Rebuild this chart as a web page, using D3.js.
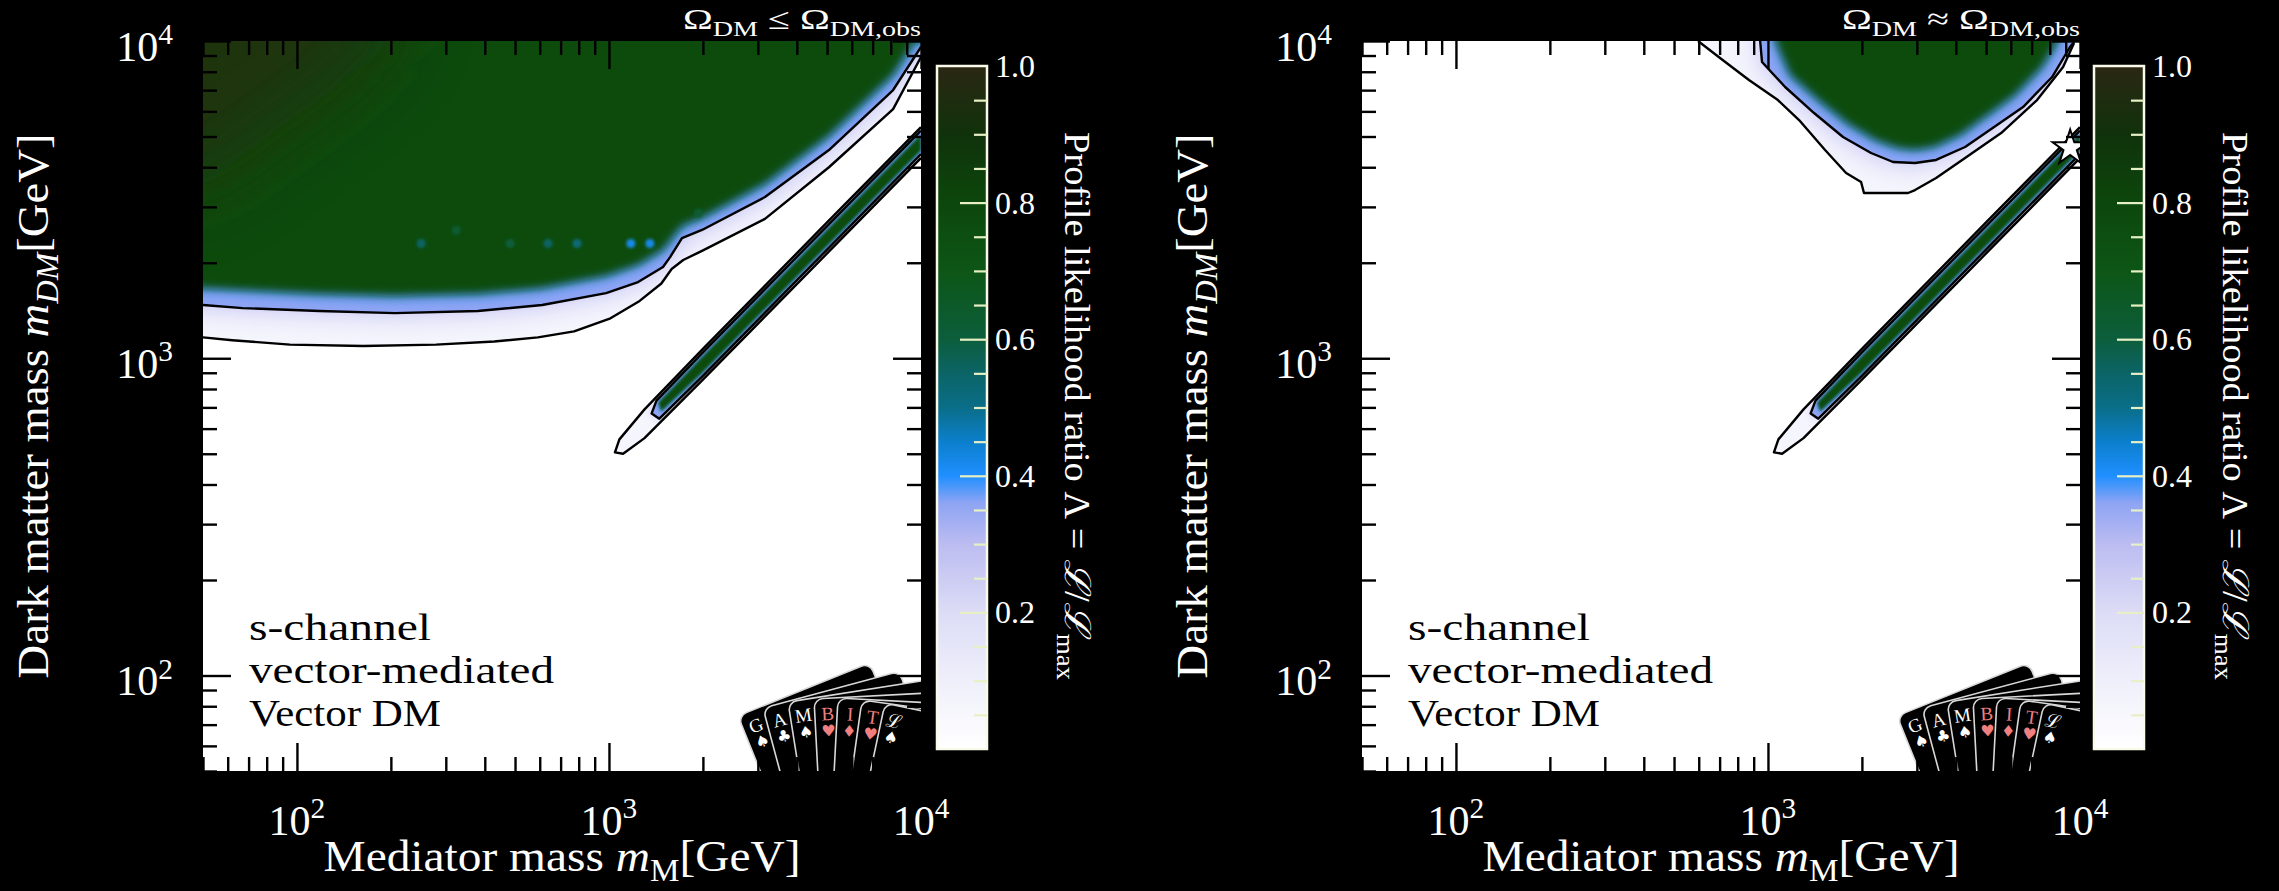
<!DOCTYPE html>
<html>
<head>
<meta charset="utf-8">
<script src="https://cdn.jsdelivr.net/npm/d3@7"></script>
<style>
  html, body { margin: 0; padding: 0; background: #000; }
  svg { display: block; }
  text { font-family: "Liberation Serif", "DejaVu Serif", serif; fill: #fff; }
</style>
</head>
<body>
<svg id="chart" width="2279" height="891"></svg>
<script>
// ---------------- data (GeV, likelihood ratio) ----------------
const massDomain = [50, 10000];
const majorTicks = [100, 1000, 10000];
const tickExponents = ["2", "3", "4"];
const cbarTicks = [0.2, 0.4, 0.6, 0.8, 1.0];
const cbarTickLabels = ["0.2", "0.4", "0.6", "0.8", "1.0"];

// colour map of the profile likelihood ratio
const cmapStops  = [0, 0.1, 0.2, 0.3, 0.36, 0.4, 0.45, 0.5, 0.55, 0.6, 0.7, 0.8, 0.9, 1.0];
const cmapColors = ["#ffffff", "#efeffb", "#dcdcf6", "#bcbcf1", "#8ea4f3", "#1f8fff", "#0b7fcc",
                    "#0a6e88", "#0b6466", "#0c5e3c", "#0d5616", "#0c470c", "#10320b", "#2b2713"];

// left panel: Omega_DM <= Omega_obs  (contours at Lambda = 0.045 and 0.317)
const leftOuter = [[50,1164],[62,1140],[95,1104],[163,1093],[279,1104],[429,1129],[592,1164],[773,1215],
                   [1011,1336],[1254,1516],[1472,1721],[1588,1912],[1730,2040],[1987,2180],[3162,2750],
                   [5070,4000],[8140,6100],[10000,8900]];
const leftInner = [[50,1472],[67,1439],[118,1409],[206,1388],[380,1409],[611,1472],[979,1605],[1240,1738],
                   [1490,1939],[1570,2084],[1714,2393],[1987,2537],[3162,3222],[5070,4532],[8140,7006],[10000,9574]];
const leftCore  = [[50,1663],[118,1593],[206,1570],[380,1593],[611,1663],[979,1816],[1240,1966],[1490,2193],
                   [1714,2611],[1987,2766],[3162,3540],[5070,5017],[8140,7812],[9570,10000]];
const leftPeak  = [[50,3500],[80,5000],[130,7000],[200,10000]];
const leftSpots = [[250,2300,0.55],[324,2530,0.62],[482,2300,0.6],[638,2300,0.55],[790,2300,0.52],
                   [1175,2300,0.42],[1352,2300,0.42],[1932,2870,0.62]];

// right panel: Omega_DM ~ Omega_obs
const rightOuter = [[597,10000],[702,8836],[869,7537],[1076,6516],[1258,5636],[1524,4532],[1780,3837],[1988,3594],
                    [2031,3318],[2812,3318],[2960,3390],[3458,3700],[4283,4276],[5588,5128],[7284,6516],[8827,8277],[9570,9857]];
const rightInner = [[944,10000],[957,8590],[1135,7161],[1405,5929],[1740,4983],[2140,4436],[2517,4155],[2960,4125],
                    [3458,4217],[4283,4633],[5306,5356],[6570,6192],[8140,7700],[9290,9574],[9570,9930]];
const rightCore  = [[1054,10000],[1177,7812],[1447,6516],[1806,5474],[2204,4874],[2593,4599],[2960,4532],[3406,4633],
                    [4127,5054],[5070,5845],[6194,6757],[7556,8281],[8508,10000]];
const bestFit = [9300, 4600];

// resonance strip m_DM ~ m_M / 2 (same in both panels)
const bandOuter = [[10000,5350],[5000,2680],[2000,1070],[1300,690],[1080,555],[1045,505],[1110,500],[1300,560],
                   [2000,856],[5000,2140],[10000,4280]];
const bandInner = [[10000,5220],[5000,2610],[2000,1044],[1420,735],[1370,670],[1450,645],[2000,880],[5000,2200],[10000,4400]];
const bandCore  = [[10000,5080],[5000,2540],[2000,1016],[1440,725],[1470,680],[2000,904],[5000,2260],[10000,4520]];

const modelLines = ["s-channel", "vector-mediated", "Vector DM"];
const gambitLetters = ["G", "A", "M", "B", "I", "T", "ℒ"];
const gambitSuits = ["♠", "♣", "♠", "♥", "♦", "♥", "♠"];

const xTitle = [["Mediator mass ", "n"], ["m", "i"], ["M", "sub"], ["[GeV]", "n"]];
const yTitle = [["Dark matter mass ", "n"], ["m", "i"], ["DM", "isub"], ["[GeV]", "n"]];
const cbTitle = [["Profile likelihood ratio Λ = ", "n"], ["ℒ", "i"], ["/", "n"], ["ℒ", "i"], ["max", "sub"]];
const leftTitle = [["Ω", "n"], ["DM", "sub"], [" ≤ Ω", "n"], ["DM,obs", "sub"]];
const rightTitle = [["Ω", "n"], ["DM", "sub"], [" ≈ Ω", "n"], ["DM,obs", "sub"]];

// ---------------- layout ----------------
const PY0 = 41, PY1 = 771;
const CB_Y0 = 66, CB_Y1 = 749, CB_W = 50;
const modelLineWidths = [182, 305, 192];

const panels = [
  {x0: 203, x1: 921, cbX: 937, title: leftTitle, outer: leftOuter, inner: leftInner, core: leftCore,
   peak: leftPeak, spots: leftSpots, star: null, kind: "side", yTitleX: 33, cbTitleX: 1078},
  {x0: 1362, x1: 2080, cbX: 2094, title: rightTitle, outer: rightOuter, inner: rightInner, core: rightCore,
   peak: null, spots: [], star: bestFit, kind: "top", yTitleX: 1192, cbTitleX: 2236}
];

const svg = d3.select("#chart");
const defs = svg.append("defs");
svg.append("rect").attr("width", 2279).attr("height", 891).attr("fill", "#000");

const color = d3.scaleLinear().domain(cmapStops).range(cmapColors);

let grad = defs.append("linearGradient").attr("id", "cmap")
  .attr("x1", 0).attr("y1", 1).attr("x2", 0).attr("y2", 0);
cmapStops.forEach(function(s, i){
  grad.append("stop").attr("offset", s).attr("stop-color", cmapColors[i]);
});

let made = {};
function blur(sd){
  let id = "blur" + String(sd).replace(".", "p");
  if(!made[id]){
    defs.append("filter").attr("id", id)
      .attr("x", "-50%").attr("y", "-50%").attr("width", "200%").attr("height", "200%")
      .append("feGaussianBlur").attr("stdDeviation", sd);
    made[id] = true;
  }
  return "url(#" + id + ")";
}

// text with italic / sub / superscript pieces
function rich(t, parts, fs){
  let shift = 0;
  parts.forEach(function(p){
    let ts = t.append("tspan").text(p[0]);
    let target = 0;
    if(p[1] == "sub" || p[1] == "isub"){ target = fs * 0.22; ts.attr("font-size", fs * 0.7); }
    if(p[1] == "sup"){ target = -fs * 0.4; ts.attr("font-size", fs * 0.7); }
    if(p[1] == "i" || p[1] == "isub") ts.attr("font-style", "italic");
    if(target != shift){ ts.attr("dy", target - shift); shift = target; }
  });
  return t;
}

function fit(t, len){
  return t.attr("textLength", len).attr("lengthAdjust", "spacingAndGlyphs");
}

function polyPath(pts){ return "M" + pts.map(d => d.join(",")).join("L") + "Z"; }

function closeRegion(px, kind, p){
  let pad = 90, first = px[0], last = px[px.length - 1];
  if(kind == "side")
    return [[p.x0 - pad, first[1]]].concat(px, [[p.x1 + pad, last[1]], [p.x1 + pad, PY0 - pad], [p.x0 - pad, PY0 - pad]]);
  if(kind == "top")
    return [[first[0], PY0 - pad]].concat(px, [[last[0], PY0 - pad]]);
  // corner
  return [[p.x0 - pad, PY0 - pad], [p.x0 - pad, first[1]]].concat(px, [[last[0], PY0 - pad]]);
}

// nested filled levels: outer contour -> inner contour -> core
function layered(g, id, outerD, innerD, coreD, o){
  defs.append("clipPath").attr("id", id + "o").append("path").attr("d", outerD);
  defs.append("clipPath").attr("id", id + "i").append("path").attr("d", innerD);
  let gOut = g.append("g").attr("clip-path", "url(#" + id + "o)");
  gOut.append("path").attr("d", outerD).attr("fill", color(0.06));
  gOut.append("path").attr("d", innerD).attr("fill", color(0.3)).attr("filter", blur(o.halo));
  let gIn = g.append("g").attr("clip-path", "url(#" + id + "i)");
  gIn.append("path").attr("d", innerD).attr("fill", color(0.36));
  gIn.append("path").attr("d", coreD).attr("fill", color(0.405)).attr("filter", blur(o.rim));
  gIn.append("path").attr("d", coreD).attr("fill", color(o.level)).attr("filter", blur(o.edge));
  return gIn;
}

function drawLogo(g, p){
  // card corners relative to the bottom-right plot corner, and tilt in degrees
  let cards = [[-183,-55,-22],[-158,-63,-15],[-133,-69,-9],[-107,-72,-3],[-83,-73,3],[-59,-71,8],[-36,-68,12]];
  cards.forEach(function(c, i){
    let red = (i >= 3 && i <= 5);
    let cg = g.append("g").attr("transform", "translate(" + (p.x1 + c[0]) + "," + (PY1 + c[1]) + ") rotate(" + c[2] + ")");
    cg.append("rect").attr("width", 142).attr("height", 170).attr("rx", 9)
      .attr("fill", "#000").attr("stroke", "#d8d8d8").attr("stroke-width", 1.6);
    cg.append("text").attr("x", 13).attr("y", 22).attr("text-anchor", "middle")
      .attr("font-size", 19).style("fill", red ? "#f27f7f" : "#fff").text(gambitLetters[i]);
    cg.append("text").attr("x", 13).attr("y", 38).attr("text-anchor", "middle")
      .style("font-family", "DejaVu Sans").attr("font-size", 16)
      .style("fill", red ? "#f27f7f" : "#fff").text(gambitSuits[i]);
  });
}

function drawPanel(p, idx){
  let x = d3.scaleLog().domain(massDomain).range([p.x0, p.x1]);
  let y = d3.scaleLog().domain(massDomain).range([PY1, PY0]);
  let toPx = pts => pts.map(d => [x(d[0]), y(d[1])]);
  let line = d3.line();

  let root = svg.append("g");
  defs.append("clipPath").attr("id", "plot" + idx).append("rect")
    .attr("x", p.x0).attr("y", PY0).attr("width", p.x1 - p.x0).attr("height", PY1 - PY0);
  root.append("rect").attr("x", p.x0).attr("y", PY0).attr("width", p.x1 - p.x0).attr("height", PY1 - PY0)
    .attr("fill", "#fff");
  let plot = root.append("g").attr("clip-path", "url(#plot" + idx + ")");

  // large allowed region
  let outerD = polyPath(closeRegion(toPx(p.outer), p.kind, p));
  let innerD = polyPath(closeRegion(toPx(p.inner), p.kind, p));
  let coreD = polyPath(closeRegion(toPx(p.core), p.kind, p));
  let gIn = layered(plot, "reg" + idx, outerD, innerD, coreD, {halo: 14, rim: 7, edge: 4, level: 0.77});
  if(p.peak){
    gIn.append("path").attr("d", polyPath(closeRegion(toPx(p.peak), "corner", p)))
      .attr("fill", color(0.98)).attr("filter", blur(40)).attr("opacity", 0.7);
  }
  gIn.selectAll("circle.spot").data(p.spots).enter().append("circle").attr("class", "spot")
    .attr("cx", d => x(d[0])).attr("cy", d => y(d[1])).attr("r", 4.5)
    .attr("fill", d => color(d[2])).attr("filter", blur(1.8));

  // resonance strip
  layered(plot, "band" + idx, polyPath(toPx(bandOuter)), polyPath(toPx(bandInner)), polyPath(toPx(bandCore)),
    {halo: 4, rim: 2.5, edge: 1.5, level: 0.77});

  // contour lines
  [p.outer, p.inner, bandOuter, bandInner].forEach(function(c){
    plot.append("path").attr("d", line(toPx(c))).attr("fill", "none")
      .attr("stroke", "#000").attr("stroke-width", 2.4).attr("stroke-linejoin", "round");
  });

  if(p.star){
    plot.append("path").attr("d", d3.symbol(d3.symbolStar, 380)())
      .attr("transform", "translate(" + x(p.star[0]) + "," + y(p.star[1]) + ")")
      .attr("fill", "#fff").attr("stroke", "#000").attr("stroke-width", 2);
  }

  // model label
  modelLines.forEach(function(s, i){
    fit(plot.append("text").attr("x", p.x0 + 46).attr("y", 640 + i * 43)
      .attr("font-size", 38).style("fill", "#000").text(s), modelLineWidths[i]);
  });

  drawLogo(plot, p);

  // ticks on all four sides, pointing inwards
  let isMajor = v => Math.abs(Math.log10(v) - Math.round(Math.log10(v))) < 1e-6;
  let minor = x.ticks().filter(v => !isMajor(v));
  let axes = [
    [d3.axisBottom(x), "translate(0," + PY0 + ")"],
    [d3.axisTop(x), "translate(0," + PY1 + ")"],
    [d3.axisRight(y), "translate(" + p.x0 + ",0)"],
    [d3.axisLeft(y), "translate(" + p.x1 + ",0)"]
  ];
  axes.forEach(function(a){
    [[minor, 14], [majorTicks, 28]].forEach(function(set){
      let ax = a[0].tickValues(set[0]).tickSize(set[1]).tickFormat("");
      let gA = root.append("g").attr("transform", a[1]).call(ax);
      gA.select(".domain").remove();
      gA.selectAll("line").attr("stroke", "#000").attr("stroke-width", 2.4);
    });
  });

  // tick labels
  majorTicks.forEach(function(v, i){
    rich(root.append("text").attr("x", x(v)).attr("y", 835).attr("text-anchor", "middle").attr("font-size", 42),
      [["10", "n"], [tickExponents[i], "sup"]], 42);
    rich(root.append("text").attr("x", p.x0 - 30).attr("y", y(v) + 20).attr("text-anchor", "end").attr("font-size", 42),
      [["10", "n"], [tickExponents[i], "sup"]], 42);
  });

  fit(rich(root.append("text").attr("x", (p.x0 + p.x1) / 2).attr("y", 871).attr("text-anchor", "middle")
    .attr("font-size", 44), xTitle, 44), 477);
  fit(rich(root.append("text").attr("transform", "translate(" + p.yTitleX + "," + ((PY0 + PY1) / 2) + ") rotate(-90)")
    .attr("text-anchor", "middle").attr("dy", "0.35em").attr("font-size", 44), yTitle, 44), 545);
  fit(rich(root.append("text").attr("x", p.x1).attr("y", 29).attr("text-anchor", "end").attr("font-size", 30),
    p.title, 30), 238);

  // colour bar
  let cb = d3.scaleLinear().domain([0, 1]).range([CB_Y1, CB_Y0]);
  let gC = svg.append("g");
  gC.append("rect").attr("x", p.cbX).attr("y", CB_Y0).attr("width", CB_W).attr("height", CB_Y1 - CB_Y0)
    .attr("fill", "url(#cmap)").attr("stroke", "#fafaea").attr("stroke-width", 2.5);
  let cbMinor = cb.ticks(20).filter(v => v > 0.01 && v < 0.99 && Math.abs(v * 5 - Math.round(v * 5)) > 1e-6);
  let cbMajor = cbarTicks.filter(v => v < 0.99);
  [[cbMinor, 13], [cbMajor, 27]].forEach(function(set){
    let gA = gC.append("g").attr("transform", "translate(" + (p.cbX + CB_W) + ",0)")
      .call(d3.axisLeft(cb).tickValues(set[0]).tickSize(set[1]).tickFormat(""));
    gA.select(".domain").remove();
    gA.selectAll("line").attr("stroke", "#e6f0c4").attr("stroke-width", 2.2);
  });
  cbarTicks.forEach(function(v, i){
    gC.append("text").attr("x", p.cbX + CB_W + 8).attr("y", cb(v) + 11).attr("font-size", 32).text(cbarTickLabels[i]);
  });
  fit(rich(gC.append("text").attr("transform", "translate(" + p.cbTitleX + "," + ((PY0 + PY1) / 2) + ") rotate(90)")
    .attr("text-anchor", "middle").attr("dy", "0.35em").attr("font-size", 36), cbTitle, 36), 548);
}

panels.forEach(drawPanel);
</script>
</body>
</html>
